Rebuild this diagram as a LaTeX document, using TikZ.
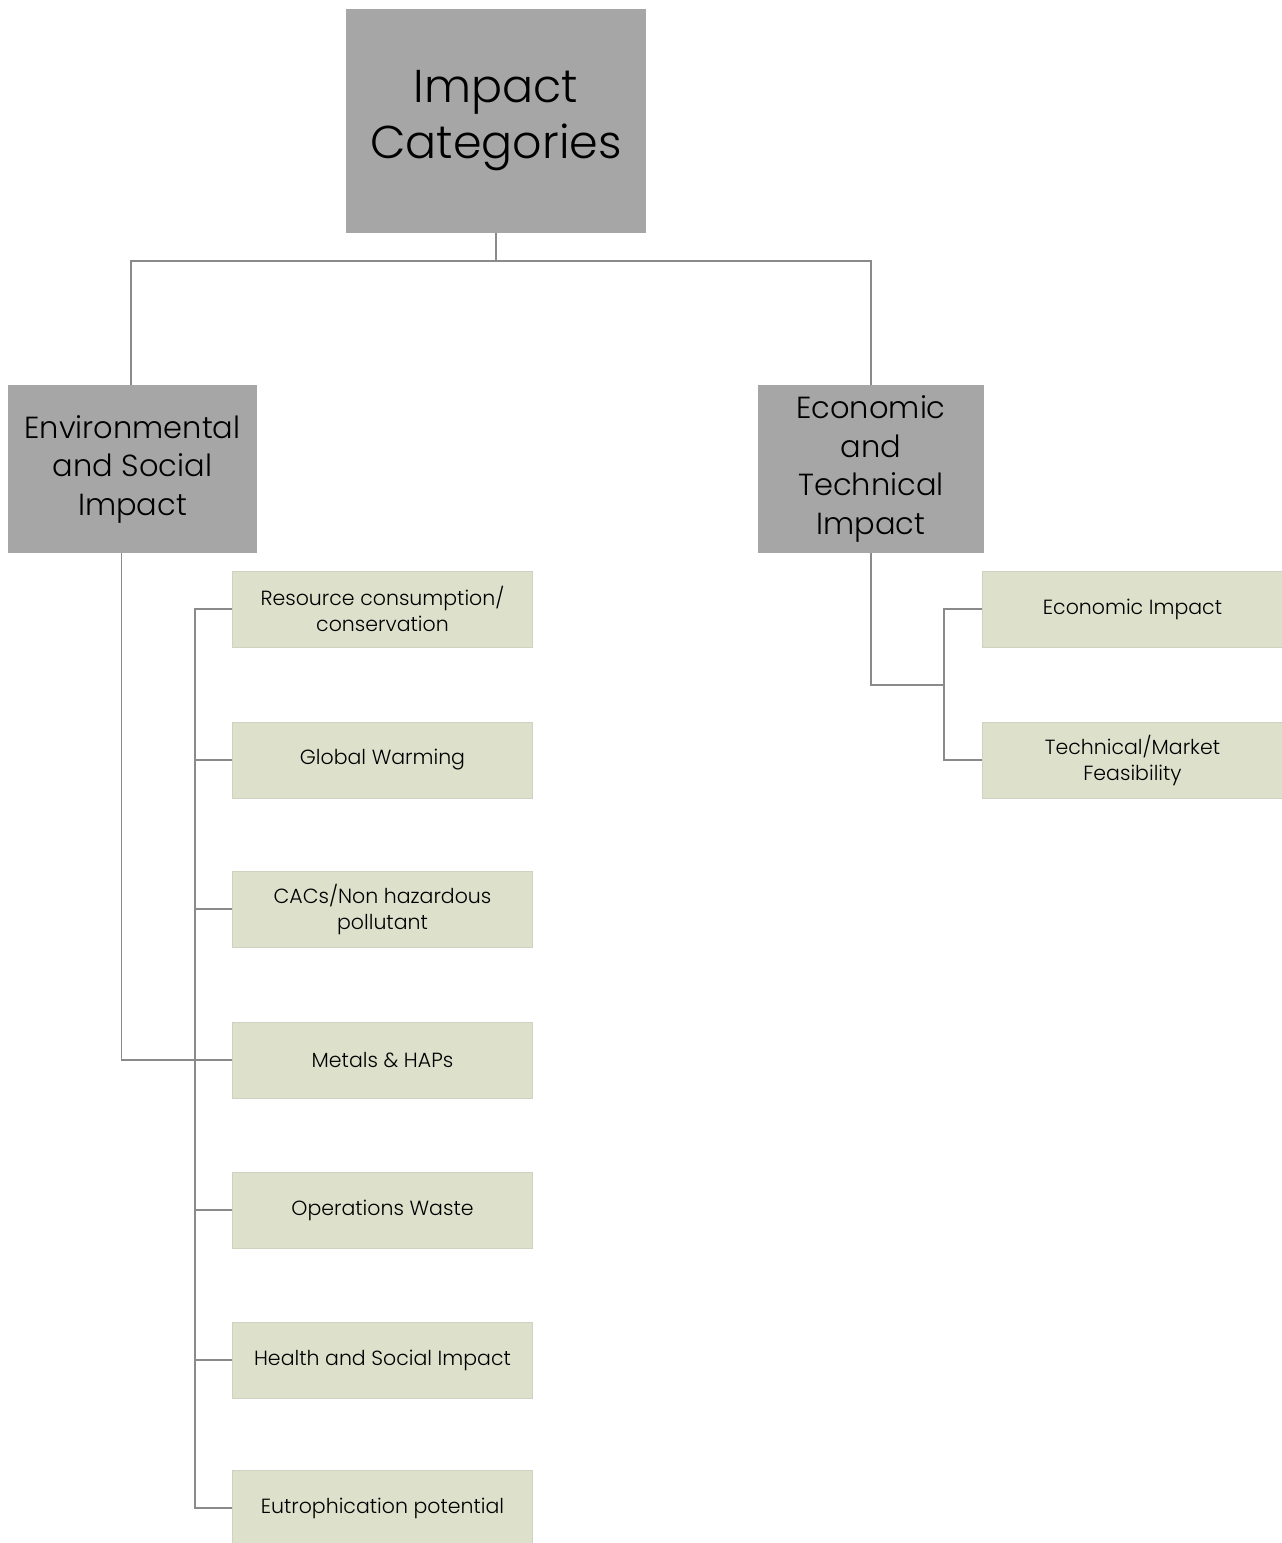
\documentclass[tikz,border=0pt]{standalone}
\usepackage{fontspec}
\setmainfont{Poppins}[UprightFont=* Light]
\usepackage{tikz}
\usetikzlibrary{positioning,calc}
\definecolor{boxgrey}{HTML}{A6A6A6}
\definecolor{leafgreen}{HTML}{DDE0CB}
\definecolor{linegrey}{HTML}{8A8A8A}
\tikzset{top box/.style={
    fill=boxgrey,
    minimum width=300pt, minimum height=224pt,
    align=center, inner sep=0pt,
    font=\fontsize{46}{56}\selectfont
  },
  mid box/.style={
    fill=boxgrey,
    minimum height=168pt,
    align=center, inner sep=0pt,
    font=\fontsize{30.5}{38.5}\selectfont
  },
  leaf box/.style={
    fill=leafgreen, draw=leafgreen!85!gray, line width=0.6pt,
    minimum width=300pt, minimum height=76pt,
    align=center, inner sep=0pt,
    font=\fontsize{20.5}{26}\selectfont
  },
  link/.style={draw=linegrey, line width=1.5pt}
}

\begin{document}
\begin{tikzpicture}[x=1pt,y=-1pt]
    \useasboundingbox (0,0) rectangle (1282,1543);
    % top level
    \node[top box] (impact) at (496,121) {Impact\\Categories};
    % second level
    \node[mid box, minimum width=249pt] (env) at (132.5,469) {Environmental\\and Social\\Impact};
    \node[mid box, minimum width=226pt] (eco) at (871,469) {Economic\\and\\Technical\\Impact};
    % environmental and social leaves
    \node[leaf box] (res) at (382.5,609) {Resource consumption/\\conservation};
    \node[leaf box] (gw) at (382.5,760) {Global Warming};
    \node[leaf box] (cac) at (382.5,909) {CACs/Non hazardous\\pollutant};
    \node[leaf box] (met) at (382.5,1060) {Metals \& HAPs};
    \node[leaf box] (ops) at (382.5,1210) {Operations Waste};
    \node[leaf box] (hsi) at (382.5,1360) {Health and Social Impact};
    \node[leaf box] (eut) at (382.5,1508) {Eutrophication potential};
    % economic and technical leaves
    \node[leaf box] (econ) at (1132.5,609) {Economic Impact};
    \node[leaf box] (tech) at (1132.5,760) {Technical/Market\\Feasibility};

    % connectors
    \draw[link] (impact.south) -- ++(0,28) -| ([xshift=-1.5pt]env.north);
    \draw[link] (impact.south) -- ++(0,28) -| (eco.north);
    \draw[link] ([xshift=-11pt]env.south) |- (met.west);
    \draw[link] (res.west) -- ++(-37,0) |- (eut.west);
    \foreach \leaf in {gw,cac,ops,hsi}
        \draw[link] (\leaf.west) -- ++(-37,0);
    \coordinate (ejoin) at (945,685);
    \draw[link] (eco.south) |- (ejoin);
    \draw[link] (econ.west) -- ++(-38,0) |- (tech.west);
\end{tikzpicture}
\end{document}
